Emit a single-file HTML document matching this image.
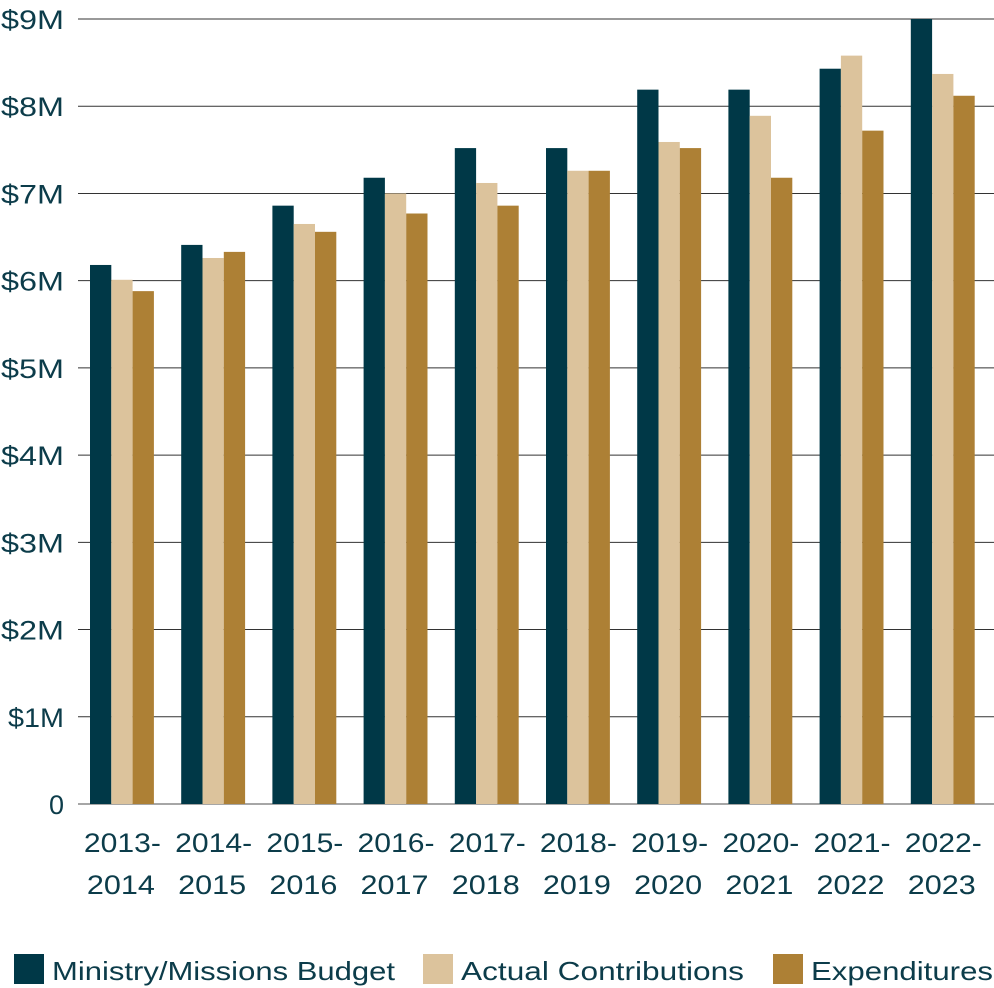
<!DOCTYPE html>
<html><head><meta charset="utf-8"><style>
html,body{margin:0;padding:0;background:#fff;}
svg{display:block;font-family:"Liberation Sans",sans-serif;}
</style></head><body>
<svg id="chart" width="994" height="988" viewBox="0 0 994 988">
<g id="grid"></g>
<g id="bars"></g>
<g id="ylab"></g>
<g id="xlab"></g>
<g id="legend"></g>
</svg>
<script>
const categories=[["2013-","2014"],["2014-","2015"],["2015-","2016"],["2016-","2017"],["2017-","2018"],["2018-","2019"],["2019-","2020"],["2020-","2021"],["2021-","2022"],["2022-","2023"]];
const budget=[6.18,6.41,6.86,7.18,7.52,7.52,8.19,8.19,8.43,9.0];
const contributions=[6.01,6.26,6.65,7.0,7.12,7.26,7.59,7.89,8.58,8.37];
const expenditures=[5.88,6.33,6.56,6.77,6.86,7.26,7.52,7.18,7.72,8.12];
const yTicks=[0,1,2,3,4,5,6,7,8,9];
const yTickLabels=["0","$1M","$2M","$3M","$4M","$5M","$6M","$7M","$8M","$9M"];
const seriesNames=["Ministry/Missions Budget","Actual Contributions","Expenditures"];

const NS="http://www.w3.org/2000/svg";
const colors=["#003847","#dcc39c","#ad8035"];
const txt="#0c3c4a";
const y0=804,y9=19,xL=78,xR=994;
const y=v=>y0-(v/9)*(y0-y9);
const band=91.2;
const bw=21.3;
const x=i=>90+i*band;
function mk(tag,attrs,parent){const e=document.createElementNS(NS,tag);for(const k in attrs)e.setAttribute(k,attrs[k]);parent.appendChild(e);return e;}
const grid=document.getElementById('grid');
yTicks.forEach((t,i)=>{
  const l=mk('line',{x1:xL,x2:xR,y1:y(t),y2:y(t),stroke:t===0?'#888':'#333','stroke-width':t===0?1.5:1},grid);
  
  
  const a={x:64,y:y(t)+10,'text-anchor':'end','font-size':27,fill:txt};
  if(t>0){a.textLength=t===1?56:63;a.lengthAdjust='spacingAndGlyphs';}
  const tx=mk('text',a,document.getElementById('ylab'));
  tx.textContent=yTickLabels[i];
  
  
});
const series=[budget,contributions,expenditures];
const bars=document.getElementById('bars');
series.forEach((s,si)=>{s.forEach((v,i)=>{
  const r=mk('rect',{x:x(i)+si*bw,y:y(v),width:bw,height:y0-y(v),fill:colors[si]},bars);
  
  
});});
const xl=document.getElementById('xlab');
categories.forEach((c,i)=>{
  const cx=x(i)+1.5*bw;
  const t1=mk('text',{x:cx-38,y:852,'font-size':27,fill:txt,textLength:77,lengthAdjust:'spacingAndGlyphs'},xl);
  t1.textContent=c[0];
  
  
  const t2=mk('text',{x:cx-35,y:894,'font-size':27,fill:txt,textLength:68,lengthAdjust:'spacingAndGlyphs'},xl);
  t2.textContent=c[1];
  
  
});
const lg=document.getElementById('legend');
const lx=[14,423,773];
const lw=[343,283,182];
seriesNames.forEach((n,i)=>{
  const r=mk('rect',{x:lx[i],y:954,width:30,height:30,fill:colors[i]},lg);
  
  
  const t=mk('text',{x:lx[i]+38,y:980,'font-size':26,fill:txt,textLength:lw[i],lengthAdjust:'spacingAndGlyphs'},lg);
  t.textContent=n;
  
  
});
</script>
</body></html>
